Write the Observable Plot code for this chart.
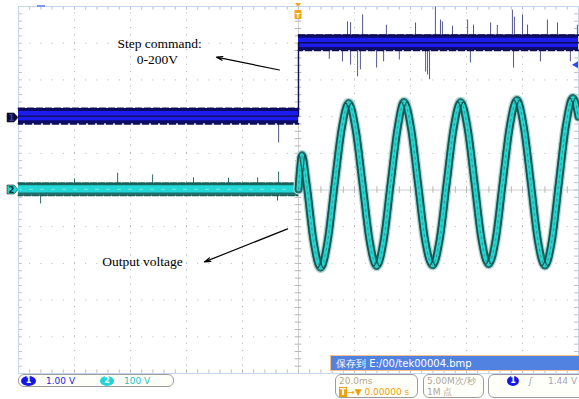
<!DOCTYPE html>
<html><head><meta charset="utf-8">
<script src="https://cdn.jsdelivr.net/npm/d3@7"></script>
<script src="https://cdn.jsdelivr.net/npm/@observablehq/plot@0.6"></script>
<style>
body{margin:0;background:#fff;}
#wrap{position:relative;width:579px;height:399px;overflow:hidden;background:#fff;}
#wrap svg{position:absolute;left:0;top:0;}
.box{position:absolute;border:1px solid #9c9c9c;border-radius:6px;background:#fffffa;box-sizing:border-box;font-family:"DejaVu Sans",sans-serif;font-size:9px;}
.t{position:absolute;white-space:nowrap;line-height:10px;}
.pill{position:absolute;border-radius:50%;color:#fff;font-weight:bold;text-align:center;font-size:8px;line-height:10px;height:10px;}
</style></head><body><div id="wrap"></div>
<script>
// ---------- data ----------
const timeDomain = [-100, 100];          // ms, 20.0 ms/div
const divDomain = [-5, 5];               // screen divisions
const ch1VoltsPerDiv = 1.00;             // CH1 1.00 V
const ch2VoltsPerDiv = 100;              // CH2 100 V
const ch1Position = 1.962;               // div (ground marker "1")
const ch2Position = 0;                   // div (ground marker "2")
const stepTime = 0;                      // ms (trigger)
const triggerLevel = 1.44;               // V on CH1
const ch1StepTimes = [-100, 0, 0, 100];  // step command
const ch1StepVolts = [0.05, 0.05, 2.05, 2.05];
const ch1Noise = 0.21;                   // V half band
const ch1SpikeT = [-7.1, 17.5, 18.6, 22.9, 31.4, 41.8, 48.9, 50.7, 51.4, 60.4, 62.5, 68.6, 76.4, 77.1, 80.0, 81.8, 88.9, 92.5, 99.6,
                   15.7, 18.6, 21.1, 22.1, 27.9, 30.4, 45.4, 46.1, 46.8, 61.4, 76.8, 86.4, 97.1, 11.0, 36.0, 55.0, 71.0];
const ch1SpikeV = [-0.68, 2.62, 2.60, 2.81, 2.53, 2.59, 3.02, 2.67, 2.62, 2.67, 2.53, 2.59, 2.94, 2.75, 2.81, 2.53, 2.67, 2.59, 2.53,
                   1.53, 1.44, 1.12, 1.31, 1.36, 1.53, 1.25, 1.17, 1.04, 1.50, 1.36, 1.53, 1.53, 1.60, 1.58, 2.50, 2.52];
const ch2PreTimes = [-100, 0];
const ch2PreVolts = [2, 2];
const ch2Noise = 16;                     // V half band
const ch2SpikeT = [-92.1, -64.6, -52.1, -37.5, -14.6, -7.1, -7.5, -80.0, -25.0];
const ch2SpikeV = [-38, 46, 41, 33, 33, 49, -30, 30, 32];
const outT = [0, 0.6, 1.2, 2.9, 5.4, 7.9, 10.4, 12.9, 15.4, 17.9, 20.4, 22.9, 25.4, 27.9, 30.4, 32.9, 35.4, 37.7, 40.2, 42.7,
              45.2, 47.9, 50.4, 52.9, 55.4, 57.9, 60.4, 62.9, 65.4, 67.9, 70.4, 72.9, 75.4, 78.0, 80.5, 83.0, 85.5, 88.0,
              90.5, 93.0, 95.5, 98.0, 100];
const outV = [2, 60, 95, 15, -140, -212, -140, 15, 165, 237, 165, 15, -138, -207, -138, 17, 168, 240, 168, 17,
              -136, -205, -136, 17, 168, 240, 168, 17, -136, -202, -136, 18, 170, 245, 170, 18, -138, -206,
              -138, 20, 175, 251, 200];
const noteText = ["Step command:", "0-200V", "Output voltage"];
const noteT = [-49.6, -50.4, -55.7];
const noteDiv = [3.98, 3.54, -1.96];
const arrowFromT = [-6.8, -3.9], arrowFromDiv = [3.27, -1.06];
const arrowToT = [-29.3, -33.6], arrowToDiv = [3.62, -1.96];

// ---------- helpers ----------
const d1 = v => v / ch1VoltsPerDiv + ch1Position;
const d2 = v => v / ch2VoltsPerDiv + ch2Position;
const ch1 = ch1StepTimes.map((t, i) => ({t, v: ch1StepVolts[i]}));
const ch1Pre = ch1.slice(0, 2), ch1Post = ch1.slice(2);
const ch1Spikes = ch1SpikeT.map((t, i) => ({t, v: ch1SpikeV[i], base: t < stepTime ? ch1StepVolts[0] : ch1StepVolts[3]}));
const ch2Pre = ch2PreTimes.map((t, i) => ({t, v: ch2PreVolts[i]}));
const ch2Spikes = ch2SpikeT.map((t, i) => ({t, v: ch2SpikeV[i]}));
const out = outT.map((t, i) => ({t, v: outV[i]}));
const notes = noteText.map((s, i) => ({s, t: noteT[i], d: noteDiv[i]}));
const arrows = arrowFromT.map((t, i) => ({t1: t, d1: arrowFromDiv[i], t2: arrowToT[i], d2: arrowToDiv[i]}));

const majT = d3.range(-80, 81, 20).filter(t => t !== 0);
const majD = d3.range(-4, 5, 1).filter(d => d !== 0);
const minT = d3.range(-100, 100.01, 4);
const minD = d3.range(-5, 5.001, 0.2);

function band(data, f, half, fill) {
  return Plot.areaY(data, {x: "t", y1: d => f(d.v - half), y2: d => f(d.v + half), fill, curve: "step-after"});
}

function markers(index, {x, y}) {
  const g = d3.create("svg:g");
  const L = x(timeDomain[0]);
  const mk = (py, fill, label, color) => {
    g.append("path").attr("d", `M${L-11},${py-4.5}H${L-4}L${L},${py}L${L-4},${py+4.5}H${L-11}Z`)
      .attr("fill", fill).attr("stroke", "#222").attr("stroke-width", 0.6);
    g.append("text").attr("x", L-6.5).attr("y", py+3.5).attr("text-anchor", "middle")
      .attr("font-family", "DejaVu Sans").attr("font-weight", "bold").attr("font-size", 9).attr("fill", color).text(label);
  };
  mk(y(ch1Position), "#0a0a3a", "1", "#3a3aa0");
  mk(y(ch2Position), "#22d6d6", "2", "#103030");
  const tx = x(stepTime), top = y(divDomain[1]);
  g.append("path").attr("d", `M${tx-3},${top-3}H${tx+3}L${tx},${top+1}Z`).attr("fill", "#f4a41c");
  g.append("rect").attr("x", tx-3.5).attr("y", top+4).attr("width", 7).attr("height", 9).attr("rx", 1).attr("fill", "#f4a41c");
  g.append("text").attr("x", tx).attr("y", top+11.5).attr("text-anchor", "middle").attr("font-family", "DejaVu Sans")
    .attr("font-size", 7).attr("font-weight", "bold").attr("fill", "#fff").text("T");
  const R = x(timeDomain[1]), ly = y(d1(triggerLevel));
  g.append("path").attr("d", `M${R-6},${ly}L${R},${ly-3.5}V${ly+3.5}Z`).attr("fill", "#2848ff");
  g.append("rect").attr("x", L+19).attr("y", top-1).attr("width", 8).attr("height", 2).attr("fill", "#7c98e8");
  return g.node();
}

const sine = {x: "t", y: d => d2(d.v), curve: "monotone-x"};

const chart = Plot.plot({
  width: 579, height: 399,
  marginLeft: 18, marginRight: 1, marginTop: 6, marginBottom: 26,
  x: {domain: timeDomain, axis: null},
  y: {domain: divDomain, axis: null},
  style: {background: "transparent", overflow: "visible"},
  marks: [
    // graticule
    Plot.ruleX(majT, {y1: -5, y2: 5, stroke: "#b4b4b4", strokeDasharray: "1 6.34"}),
    Plot.ruleY(majD, {x1: -100, x2: 100, stroke: "#b4b4b4", strokeDasharray: "1 10.2"}),
    Plot.ruleY([0], {x1: -100, x2: 100, stroke: "#cfcfcf"}),
    Plot.ruleX([0], {y1: -5, y2: 5, stroke: "#cfcfcf"}),
    Plot.ruleX(minT, {y1: -0.09, y2: 0.09, stroke: "#b8b8b8"}),
    Plot.ruleY(minD, {x1: -1.2, x2: 1.2, stroke: "#b8b8b8"}),
    Plot.ruleY(minD, {x1: -100, x2: -98.6, stroke: "#c0c0c0"}),
    Plot.ruleY(minD, {x1: 98.6, x2: 100, stroke: "#c0c0c0"}),
    Plot.ruleX(minT, {y1: 4.9, y2: 5, stroke: "#c0c0c0"}),
    Plot.ruleX(minT, {y1: -5, y2: -4.9, stroke: "#c0c0c0"}),
    Plot.frame({stroke: "#c4d6ee"}),
    // CH2 pre-step noise band
    Plot.ruleX(ch2Spikes, {x: "t", y1: d => d2(ch2PreVolts[0]), y2: d => d2(d.v), stroke: "#2a6a66", strokeWidth: 1}),
    band(ch2Pre, d2, ch2Noise, "#1d6f6b"),
    band(ch2Pre, d2, ch2Noise * 0.62, "#22d8d6"),
    Plot.line(ch2Pre, {x: "t", y: d => d2(d.v + ch2Noise), stroke: "#1a5e5a", strokeWidth: 2.2, strokeDasharray: "1 1 2 1 1 2"}),
    Plot.line(ch2Pre, {x: "t", y: d => d2(d.v - ch2Noise), stroke: "#1a5e5a", strokeWidth: 2, strokeDasharray: "2 1 1 2 1 1"}),
    Plot.line(ch2Pre, {x: "t", y: d => d2(d.v), stroke: "#7ee8e6", strokeWidth: 1, strokeDasharray: "3 8"}),
    // CH2 output voltage
    Plot.line(out, {...sine, stroke: "#b3d6d4", strokeWidth: 10.5}),
    Plot.line(out, {...sine, stroke: "#1f6e6a", strokeWidth: 8}),
    Plot.line(out, {...sine, stroke: "#22d6d2", strokeWidth: 4}),
    Plot.line(out, {...sine, dx: 3, stroke: "#164f4c", strokeWidth: 1.2, strokeDasharray: "1 1 2 1"}),
    Plot.line(out, {...sine, dx: -3, stroke: "#164f4c", strokeWidth: 1.2, strokeDasharray: "2 1 1 1"}),
    Plot.line(out, {...sine, stroke: "#2a8a86", strokeWidth: 0.8, strokeDasharray: "2 4"}),
    // CH1 step command
    Plot.ruleX(ch1Spikes, {x: "t", y1: d => d1(d.base), y2: d => d1(d.v), stroke: "#555590", strokeWidth: 1}),
    band(ch1Pre, d1, ch1Noise, "#0c0c68"),
    band(ch1Post, d1, ch1Noise, "#0c0c68"),
    band(ch1Pre, d1, ch1Noise * 0.6, "#1c1cee"),
    band(ch1Post, d1, ch1Noise * 0.6, "#1c1cee"),
    ...[ch1Pre, ch1Post].flatMap(seg => [
      Plot.line(seg, {x: "t", y: d => d1(d.v + ch1Noise), stroke: "#0c0c50", strokeWidth: 1.8, strokeDasharray: "1 1 2 1 1 3"}),
      Plot.line(seg, {x: "t", y: d => d1(d.v - ch1Noise), stroke: "#0c0c50", strokeWidth: 1.8, strokeDasharray: "2 1 1 3 1 1"})
    ]),
    Plot.line(ch1, {x: "t", y: d => d1(d.v), stroke: "#0c0c50", strokeWidth: 1.4}),
    // annotations
    Plot.text(notes, {x: "t", y: "d", text: "s", fontFamily: "Liberation Serif", fontSize: 13.5, fill: "#000"}),
    Plot.arrow(arrows, {x1: "t1", y1: "d1", x2: "t2", y2: "d2", stroke: "#000", strokeWidth: 1.2, headAngle: 35, headLength: 8}),
    markers
  ]
});
document.getElementById("wrap").append(chart);

// status bar
const wrap = document.getElementById("wrap");
wrap.insertAdjacentHTML("beforeend", `
<div style="position:absolute;left:330px;top:355px;width:252px;height:16px;background:#5182e2;border:1px solid #f2c08c;box-sizing:border-box;">
  <span class="t" style="left:5px;top:2px;color:#fff;font-family:'DejaVu Sans',sans-serif;font-size:10px;line-height:11px;">保存到 E:/00/tek00004.bmp</span></div>
<div class="box" style="left:18px;top:374px;width:156px;height:13px;">
  <span class="pill" style="left:2px;top:0.5px;width:15px;background:#1616e6;">1</span>
  <span class="t" style="left:27px;top:1px;color:#2424d8;">1.00 V</span>
  <span class="pill" style="left:81px;top:0.5px;width:14px;background:#22d4d4;">2</span>
  <span class="t" style="left:105px;top:1px;color:#22c4c4;">100 V</span></div>
<div class="box" style="left:335px;top:374px;width:83px;height:24px;">
  <span class="t" style="left:3px;top:1px;color:#b4a68c;">20.0ms</span>
  <span class="t" style="left:3px;top:12px;color:#f0a000;"><span style="background:#f0a000;color:#fff;font-weight:bold;padding:0 1px;">T</span>→▼ 0.00000 s</span></div>
<div class="box" style="left:423px;top:374px;width:61px;height:24px;">
  <span class="t" style="left:3px;top:1px;color:#b0a698;">5.00M次/秒</span>
  <span class="t" style="left:3px;top:12px;color:#b0a698;">1M 点</span></div>
<div class="box" style="left:488px;top:374px;width:100px;height:24px;">
  <span class="pill" style="left:18px;top:1px;width:12px;background:#1616e6;">1</span>
  <span class="t" style="left:40px;top:1px;color:#9c9cb4;font-style:italic;">ʃ</span>
  <span class="t" style="left:59px;top:1px;color:#a4a4b8;">1.44 V</span></div>
`);
</script></body></html>
